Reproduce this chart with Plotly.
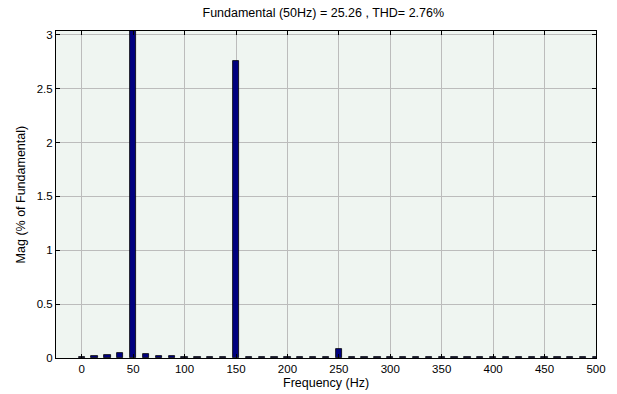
import plotly.graph_objects as go

# Harmonic spectrum, 12.5 Hz resolution, magnitude in % of fundamental
freqs = [i * 12.5 for i in range(41)]
mags = [0.01, 0.02, 0.03, 0.045, 100.0, 0.035, 0.02, 0.02,
        0.008, 0.008, 0.008, 0.008, 2.76, 0.008, 0.008, 0.008,
        0.008, 0.008, 0.008, 0.008, 0.08, 0.008, 0.008, 0.008,
        0.008, 0.008, 0.008, 0.008, 0.008, 0.008, 0.008, 0.008,
        0.008, 0.008, 0.008, 0.008, 0.008, 0.008, 0.008, 0.008, 0.008]
x_ticks = [0, 50, 100, 150, 200, 250, 300, 350, 400, 450, 500]
y_ticks = [0, 0.5, 1, 1.5, 2, 2.5, 3]
title_text = "Fundamental (50Hz) = 25.26 , THD= 2.76%"

font_family = "Liberation Sans, Arial, sans-serif"
tick_font = dict(family=font_family, size=11.5, color="black")
label_font = dict(family=font_family, size=12.5, color="black")

fig = go.Figure(go.Bar(
    x=freqs, y=mags, width=6,
    marker=dict(color="#00007f", line=dict(color="black", width=0.8)),
))

axis_common = dict(
    showline=True, linecolor="black", linewidth=1, mirror="ticks",
    ticks="inside", ticklen=4, tickcolor="black",
    showgrid=True, gridcolor="#bcbcbc", gridwidth=1,
    zeroline=False, automargin=False, tickfont=tick_font,
)

fig.update_layout(
    width=617, height=394,
    margin=dict(l=56, r=21, t=31, b=36),
    paper_bgcolor="white", plot_bgcolor="#eff5f1",
    showlegend=False, bargap=0,
    title=dict(text=title_text, x=0.524, xanchor="center", y=0.967, yanchor="middle",
               font=label_font),
    xaxis=dict(range=[-25, 500], tickvals=x_ticks, ticklabelstandoff=0, **axis_common),
    yaxis=dict(range=[0, 3.035], tickvals=y_ticks,
               ticktext=["0", "0.5", "1", "1.5", "2", "2.5", "3"],
               **axis_common),
    annotations=[
        dict(text="Frequency (Hz)", xref="paper", yref="paper",
             x=0.5, y=-0.077, xanchor="center", yanchor="middle",
             showarrow=False, font=label_font),
        dict(text="Mag (% of Fundamental)", xref="paper", yref="paper",
             x=-0.065, y=0.5, xanchor="center", yanchor="middle", textangle=-90,
             showarrow=False, font=label_font),
    ],
)

fig.write_html("out.html")
